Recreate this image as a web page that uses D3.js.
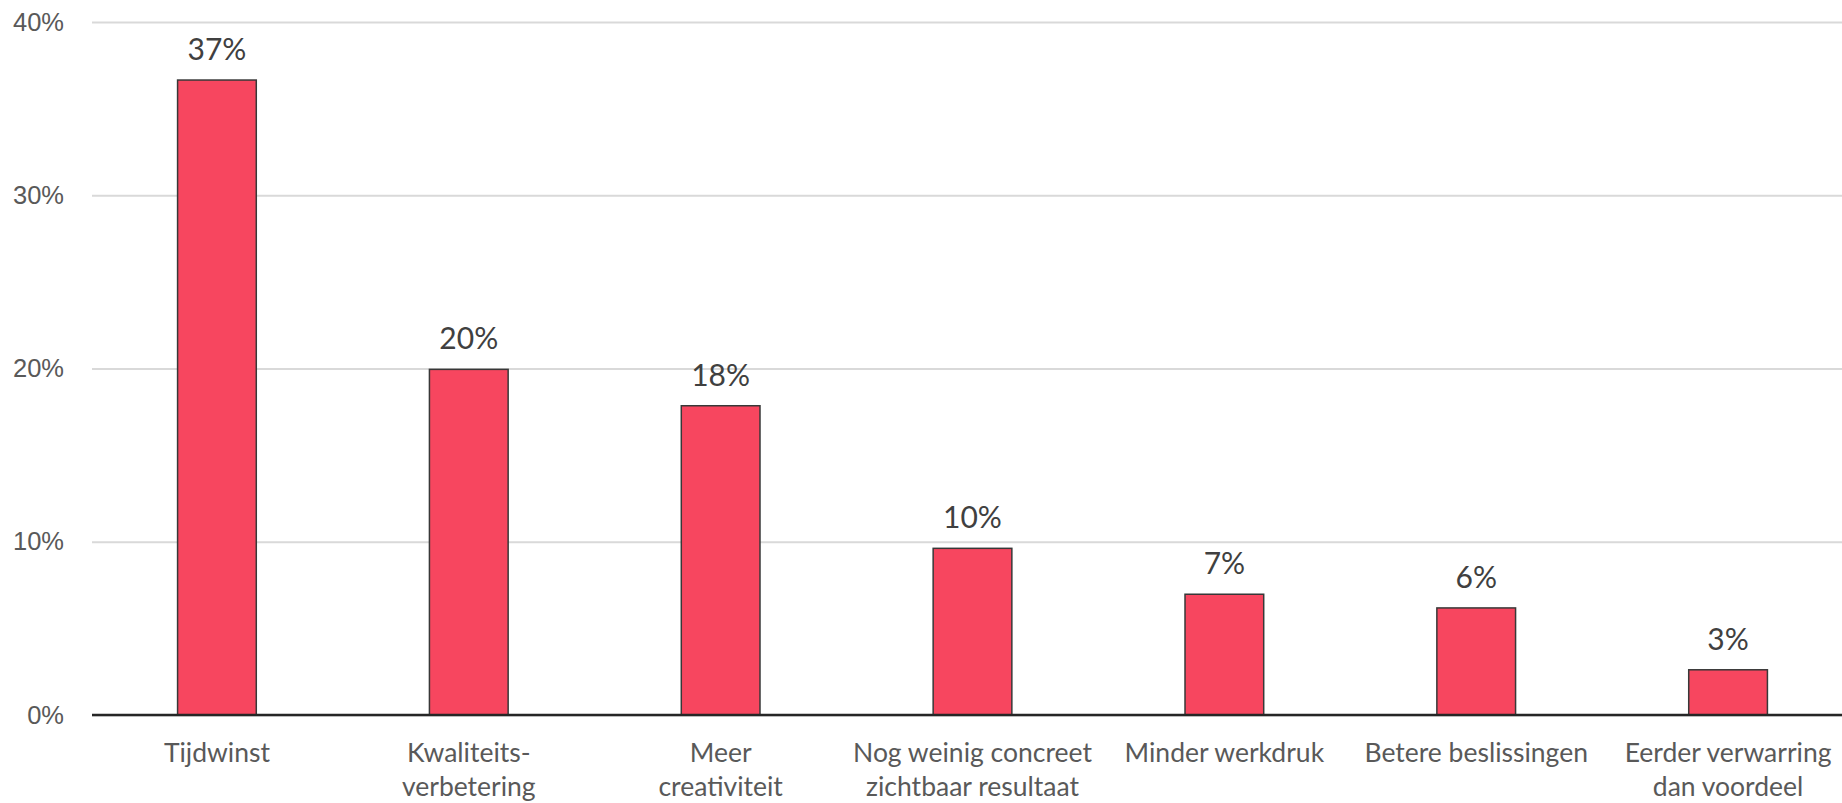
<!DOCTYPE html>
<html>
<head>
<meta charset="utf-8">
<script src="https://cdn.jsdelivr.net/npm/d3@7"></script>
<style>
    body { margin: 0; background: #fff; }
    svg { display: block; font-family: Lato, "Open Sans", sans-serif; }
</style>
</head>
<body>
<svg id="chart"></svg>
<script>
// categories, "\n" marks where the label wraps
let categories = [
    "Tijdwinst",
    "Kwaliteits-\nverbetering",
    "Meer\ncreativiteit",
    "Nog weinig concreet\nzichtbaar resultaat",
    "Minder werkdruk",
    "Betere beslissingen",
    "Eerder verwarring\ndan voordeel"
];
let values = [0.3665, 0.1995, 0.1785, 0.0962, 0.0697, 0.0618, 0.0261];
let yTicks = [0, 0.1, 0.2, 0.3, 0.4];

function drawChart() {
    let width = 1842;
    let height = 803;
    let padding = {
        top: 22,
        left: 91,
        right: -12,
        bottom: 88
    };

    let svg = d3.select("#chart")
                .attr("width", width)
                .attr("height", height);

    let xScale = d3.scaleBand()
                    .domain(categories)
                    .range([padding.left, width - padding.right])
                    .paddingInner(0.6875)
                    .paddingOuter(0.34375);
    let yScale = d3.scaleLinear()
                    .domain([0, 0.4])
                    .range([height - padding.bottom, padding.top]);

    let fmt = d3.format(".0%");

    // gridlines + tick labels
    let yAxis = d3.axisLeft(yScale)
                    .tickValues(yTicks)
                    .tickFormat(fmt)
                    .tickSize(-(width - padding.left))
                    .tickPadding(28);

    let yG = svg.append("g")
        .attr("class", "y-axis")
        .attr("transform", "translate(" + (padding.left + 1) + ",0)")
        .call(yAxis);
    yG.select(".domain").remove();
    yG.selectAll(".tick line")
        .attr("stroke", "#d9d9d9")
        .attr("stroke-width", 2);
    yG.selectAll(".tick text")
        .attr("fill", "#595959")
        .style("font-size", "25.5px");

    // bars
    svg.selectAll(".bar")
        .data(values)
        .enter()
        .append("rect")
            .classed("bar", true)
            .attr("x", (d, i) => xScale(categories[i]))
            .attr("width", xScale.bandwidth())
            .attr("y", d => yScale(d))
            .attr("height", d => yScale(0) - yScale(d))
            .attr("fill", "#f7465f")
            .attr("stroke", "#383838")
            .attr("stroke-width", 1.5);

    // data labels
    svg.selectAll(".bar-label")
        .data(values)
        .enter()
        .append("text")
            .classed("bar-label", true)
            .attr("x", (d, i) => xScale(categories[i]) + xScale.bandwidth() / 2)
            .attr("y", d => yScale(d) - 20)
            .attr("text-anchor", "middle")
            .attr("fill", "#404040")
            .style("font-size", "30px")
            .text(d => fmt(d));

    // baseline
    svg.append("line")
        .attr("x1", padding.left + 1)
        .attr("x2", width)
        .attr("y1", yScale(0))
        .attr("y2", yScale(0))
        .attr("stroke", "#262626")
        .attr("stroke-width", 2.5);

    // category labels
    let xLabels = svg.selectAll(".x-label")
        .data(categories)
        .enter()
        .append("text")
            .classed("x-label", true)
            .attr("x", d => xScale(d) + xScale.bandwidth() / 2)
            .attr("y", yScale(0) + 47)
            .attr("text-anchor", "middle")
            .attr("fill", "#595959")
            .style("font-size", "26.5px");

    xLabels.selectAll("tspan")
        .data(d => d.split("\n"))
        .enter()
        .append("tspan")
            .attr("x", function() { return d3.select(this.parentNode).attr("x"); })
            .attr("dy", (d, i) => i === 0 ? 0 : 34)
            .text(d => d);
}

drawChart();
</script>
</body>
</html>
